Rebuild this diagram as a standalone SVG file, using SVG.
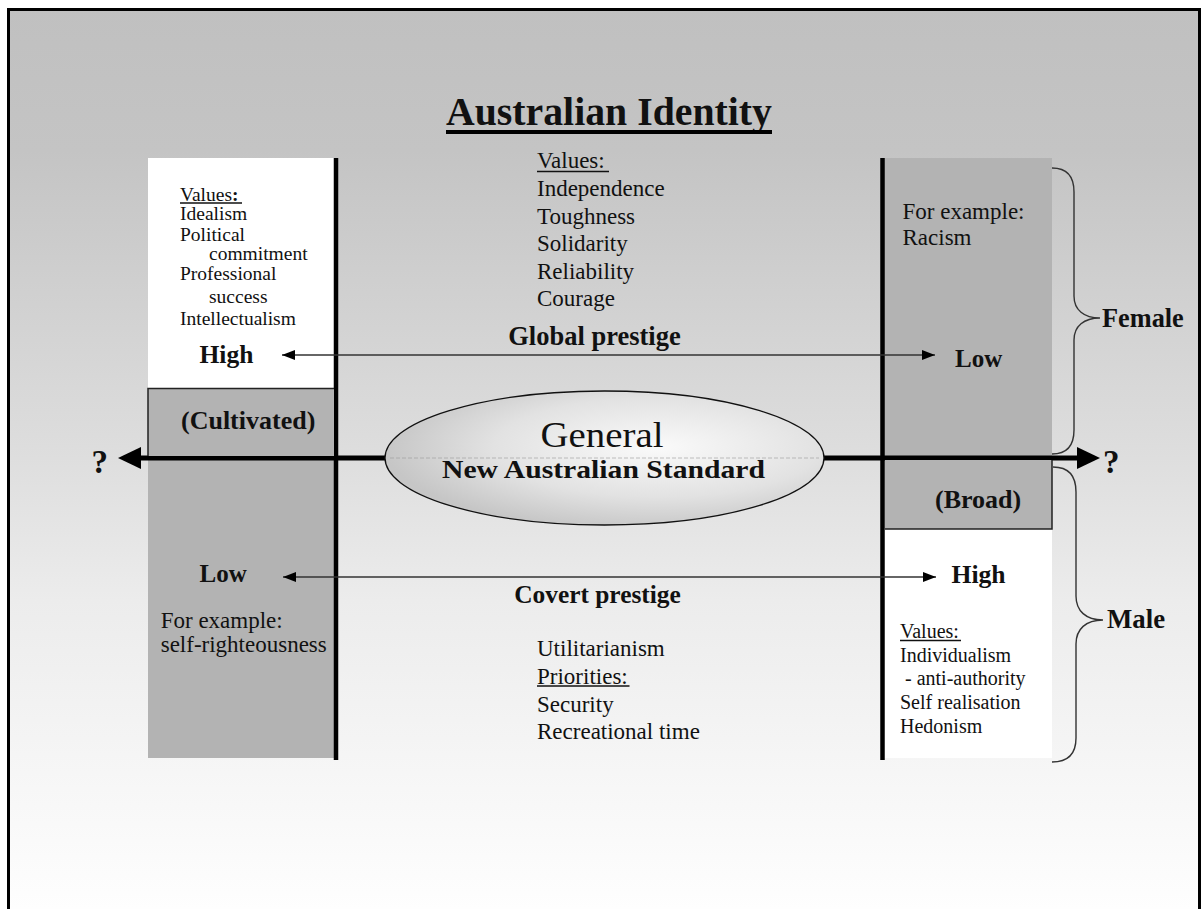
<svg xmlns="http://www.w3.org/2000/svg" width="1201" height="909" viewBox="0 0 1201 909">
  <style>
    text { font-family: "Liberation Serif", "Times New Roman", serif; fill: #111; }
    .b { font-weight: bold; }
    .v23 { font-size: 23px; }
    .v20 { font-size: 20px; }
    .v195 { font-size: 19.5px; }
    .lbl { font-size: 26px; font-weight: bold; }
    .ul { stroke: #111; stroke-width: 1.5; }
    .panel-gray { fill: #b3b3b3; }
    .panel-white { fill: #ffffff; }
    .edge { fill: none; stroke: #222; stroke-width: 1.5; }
    .brace { fill: none; stroke: #333; stroke-width: 1.4; }
    .thin { stroke: #333; stroke-width: 1.5; fill: none; marker-start: url(#tip); marker-end: url(#tip); }
    .axis { stroke: #000; stroke-width: 5; fill: none; marker-start: url(#bigtip); marker-end: url(#bigtip); }
    .divider { stroke: #000; stroke-width: 4.5; }
  </style>
  <defs>
    <linearGradient id="bg" x1="0" y1="8" x2="0" y2="909" gradientUnits="userSpaceOnUse">
      <stop offset="0" stop-color="#c0c0c0"/>
      <stop offset="0.158" stop-color="#c4c4c4"/>
      <stop offset="0.5" stop-color="#dedede"/>
      <stop offset="0.657" stop-color="#ececec"/>
      <stop offset="1" stop-color="#fefefe"/>
    </linearGradient>
    <radialGradient id="oval" cx="0.62" cy="0.42" r="0.62">
      <stop offset="0" stop-color="#fafafa"/>
      <stop offset="0.6" stop-color="#e2e2e2"/>
      <stop offset="1" stop-color="#c6c6c6"/>
    </radialGradient>
    <marker id="tip" viewBox="0 0 13 10" markerWidth="13" markerHeight="10" refX="13" refY="5" orient="auto-start-reverse" markerUnits="userSpaceOnUse">
      <path d="M0,0 L13,5 L0,10 z" fill="#000"/>
    </marker>
    <marker id="bigtip" viewBox="0 0 23 22" markerWidth="23" markerHeight="22" refX="13" refY="11" orient="auto-start-reverse" markerUnits="userSpaceOnUse">
      <path d="M0,0 L23,11 L0,22 z" fill="#000"/>
    </marker>
  </defs>

  <!-- slide frame and background -->
  <rect x="0" y="0" width="1201" height="909" fill="#ffffff"/>
  <rect x="8.5" y="9.5" width="1191" height="905" fill="url(#bg)" stroke="#000" stroke-width="3"/>

  <!-- title -->
  <g id="title">
    <text x="609" y="125" text-anchor="middle" class="b" font-size="40" textLength="326" lengthAdjust="spacingAndGlyphs">Australian Identity</text>
    <rect x="446" y="130" width="326" height="4" fill="#000"/>
  </g>

  <!-- column panels -->
  <g id="left-column">
    <rect class="panel-white" x="148" y="158" width="187" height="230"/>
    <rect class="panel-gray" x="148" y="388" width="187" height="370"/>
  </g>
  <g id="right-column">
    <rect class="panel-gray" x="884" y="158" width="168" height="300"/>
    <rect class="panel-white" x="884" y="529" width="168" height="229"/>
  </g>

  <!-- connectors: main axis, dividers, prestige arrows, braces -->
  <g id="connectors">
    <path class="axis" d="M128,458 L1090,458"/>
    <line class="divider" x1="336" y1="158" x2="336" y2="760"/>
    <line class="divider" x1="882.5" y1="158" x2="882.5" y2="760"/>
    <path class="thin" d="M282,355 L935,355"/>
    <path class="thin" d="M283,577 L936,577"/>
    <path class="brace" d="M1052,168 C1066,168 1074,176 1074,192 L1074,296 C1074,310 1084,318 1100,318 C1084,318 1074,326 1074,340 L1074,430 C1074,446 1066,454 1052,454"/>
    <path class="brace" d="M1053,467 C1068,467 1076,475 1076,492 L1076,596 C1076,611 1086,620 1103,620 C1086,620 1076,629 1076,644 L1076,738 C1076,754 1068,762 1052,762"/>
  </g>

  <!-- register boxes -->
  <g id="cultivated">
    <rect class="panel-gray" x="148" y="388" width="186" height="68"/>
    <path class="edge" d="M148,456 L148,388.5 L334,388.5"/>
    <text x="181" y="429" class="lbl" font-size="26.5">(Cultivated)</text>
  </g>
  <g id="broad">
    <rect class="panel-gray" x="885" y="460" width="167" height="69"/>
    <path class="edge" d="M1052,460 L1052,529 L885,529"/>
    <text x="935" y="508" class="lbl">(Broad)</text>
  </g>

  <!-- central standard -->
  <g id="general-standard">
    <ellipse cx="604.5" cy="458" rx="219.5" ry="67" fill="url(#oval)" stroke="#111" stroke-width="1.3"/>
    <line x1="390" y1="458" x2="819" y2="458" stroke="#9a9a9a" stroke-width="1" stroke-dasharray="4,2" opacity="0.6"/>
    <text x="602" y="447" text-anchor="middle" font-size="35" textLength="123" lengthAdjust="spacingAndGlyphs">General</text>
    <text x="603.5" y="478" text-anchor="middle" class="b" font-size="25" textLength="323" lengthAdjust="spacingAndGlyphs">New Australian Standard</text>
  </g>

  <!-- axis ends -->
  <g id="end-left"><text x="91.5" y="473" class="b" font-size="33">?</text></g>
  <g id="end-right"><text x="1103" y="473" class="b" font-size="33">?</text></g>

  <!-- cultivated values -->
  <g id="cultivated-values" class="v195">
    <text x="180" y="201" class="v195">Values<tspan class="b">:</tspan></text>
    <line class="ul" x1="180" y1="203" x2="242" y2="203" stroke-width="1.3"/>
    <text x="180" y="220" class="v195">Idealism</text>
    <text x="180" y="240.5" class="v195">Political</text>
    <text x="209" y="260" class="v195">commitment</text>
    <text x="180" y="280" class="v195">Professional</text>
    <text x="209" y="302.5" class="v195">success</text>
    <text x="180" y="325" class="v195">Intellectualism</text>
    <text x="199.5" y="362.5" class="b" font-size="25.5">High</text>
  </g>

  <!-- global values -->
  <g id="global-values">
    <text x="537" y="168" class="v23">Values:</text>
    <line class="ul" x1="537" y1="171.5" x2="609" y2="171.5"/>
    <text x="537" y="196" class="v23">Independence</text>
    <text x="537" y="223.5" class="v23">Toughness</text>
    <text x="537" y="251" class="v23">Solidarity</text>
    <text x="537" y="278.5" class="v23">Reliability</text>
    <text x="537" y="306" class="v23">Courage</text>
    <text x="594.5" y="345" text-anchor="middle" class="b" font-size="26.5">Global prestige</text>
  </g>

  <!-- broad female side -->
  <g id="female-side">
    <text x="902.5" y="218.5" class="v23">For example:</text>
    <text x="902.5" y="244.5" class="v23">Racism</text>
    <text x="955" y="366.5" class="b" font-size="25">Low</text>
    <text x="1102" y="327" class="b" font-size="26.3">Female</text>
  </g>

  <!-- cultivated covert side -->
  <g id="cultivated-covert">
    <text x="199.5" y="581.5" class="b" font-size="25">Low</text>
    <text x="160.7" y="628" class="v23">For example:</text>
    <text x="160.7" y="651.5" class="v23">self-righteousness</text>
  </g>

  <!-- covert values -->
  <g id="covert-values">
    <text x="597.5" y="603" text-anchor="middle" class="b" font-size="25.4">Covert prestige</text>
    <text x="537" y="656" class="v23">Utilitarianism</text>
    <text x="537" y="683.5" class="v23">Priorities:</text>
    <line class="ul" x1="537" y1="686" x2="629.5" y2="686"/>
    <text x="537" y="711.5" class="v23">Security</text>
    <text x="537" y="739" class="v23">Recreational time</text>
  </g>

  <!-- broad male side -->
  <g id="male-side">
    <text x="951.5" y="583" class="b" font-size="25.6">High</text>
    <text x="900" y="638" class="v20">Values:</text>
    <line class="ul" x1="900" y1="640.5" x2="961" y2="640.5" stroke-width="1.3"/>
    <text x="900" y="661.5" class="v20">Individualism</text>
    <text x="905" y="684.5" class="v20">- anti-authority</text>
    <text x="900" y="709" class="v20">Self realisation</text>
    <text x="900" y="733" class="v20">Hedonism</text>
    <text x="1107" y="628" class="b" font-size="26.8">Male</text>
  </g>
</svg>
